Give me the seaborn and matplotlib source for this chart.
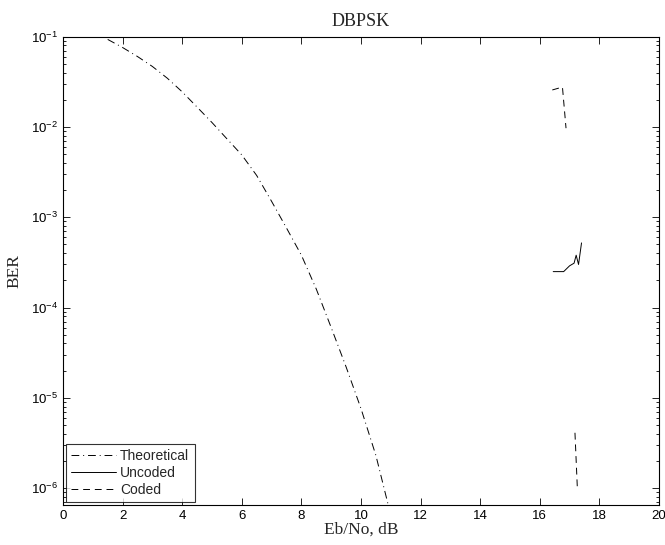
import numpy as np
import pandas as pd
import seaborn as sns
import matplotlib.pyplot as plt

# Theoretical DBPSK curve
theo_ebno = [1.5, 2.0, 2.5, 3.0, 3.5, 4.0, 4.5, 5.0, 5.5, 6.0, 6.5,
             7.0, 7.5, 8.0, 8.5, 9.0, 9.5, 10.0, 10.5, 11.0]
theo_ber = [0.0933, 0.0759, 0.0603, 0.0468, 0.0347, 0.0245, 0.0166, 0.0112,
            0.0074, 0.0049, 0.0029, 0.0015, 7.6e-4, 3.8e-4, 1.6e-4, 6.0e-5,
            2.2e-5, 7.6e-6, 2.3e-6, 5.0e-7]

# Simulated, uncoded
unc_ebno = [16.45, 16.8, 17.0, 17.15, 17.22, 17.3, 17.4]
unc_ber = [2.5e-4, 2.5e-4, 2.9e-4, 3.1e-4, 3.8e-4, 3.0e-4, 5.2e-4]

# Simulated, coded (two visible pieces)
cod_ebno_hi = [16.42, 16.76, 16.88]
cod_ber_hi = [0.0257, 0.0277, 0.0097]
cod_ebno_lo = [17.18, 17.26, 17.35]
cod_ber_lo = [4.1e-6, 1.0e-6, 1.0e-6]

sns.set_style("ticks")
plt.rcParams["font.family"] = ["Liberation Sans", "DejaVu Sans"]
plt.rcParams["mathtext.fontset"] = "custom"
plt.rcParams["mathtext.rm"] = "Liberation Sans"

fig = plt.figure(figsize=(6.65, 5.45), dpi=100)
ax = fig.add_axes([63 / 665, 1 - 505 / 545, 596 / 665, (505 - 36.7) / 545])

lw = 0.7
sns.lineplot(x=theo_ebno, y=theo_ber, ax=ax, color="k", lw=lw,
             linestyle=(0, (8, 4, 1, 4)), label="Theoretical")
sns.lineplot(x=unc_ebno, y=unc_ber, ax=ax, color="k", lw=lw,
             linestyle="-", label="Uncoded", sort=False)
sns.lineplot(x=cod_ebno_hi, y=cod_ber_hi, ax=ax, color="k", lw=lw,
             linestyle=(0, (7, 5)), label="Coded", sort=False)
sns.lineplot(x=cod_ebno_lo, y=cod_ber_lo, ax=ax, color="k", lw=lw,
             linestyle=(0, (7, 5)), sort=False)

ax.set_yscale("log")
ax.set_xlim(0, 20)
ax.set_ylim(6.5e-7, 1e-1)
ax.set_xticks(np.arange(0, 21, 2))

ax.tick_params(which="both", direction="in", top=True, right=True,
               labelsize=9.5, colors="k", width=0.6)
ax.tick_params(which="major", length=5)
ax.tick_params(which="minor", length=2.5)
for s in ax.spines.values():
    s.set_linewidth(0.8)
    s.set_color("k")

ax.set_title("DBPSK", family="Liberation Serif", fontsize=13, pad=8)
ax.set_xlabel("Eb/No, dB", family="Liberation Serif", fontsize=12.5, labelpad=0)
ax.set_ylabel("BER", family="Liberation Serif", fontsize=12.5, labelpad=6)

handles = ax.get_lines()[:3]
leg = ax.legend(handles, ["Theoretical", "Uncoded", "Coded"], loc="lower left",
                fontsize=10, frameon=True, fancybox=False, edgecolor="k",
                handlelength=3.2, borderaxespad=0.2, borderpad=0.4,
                labelspacing=0.2, handletextpad=0.3)
leg.get_frame().set_linewidth(0.8)

fig.savefig("out.png", dpi=100)
